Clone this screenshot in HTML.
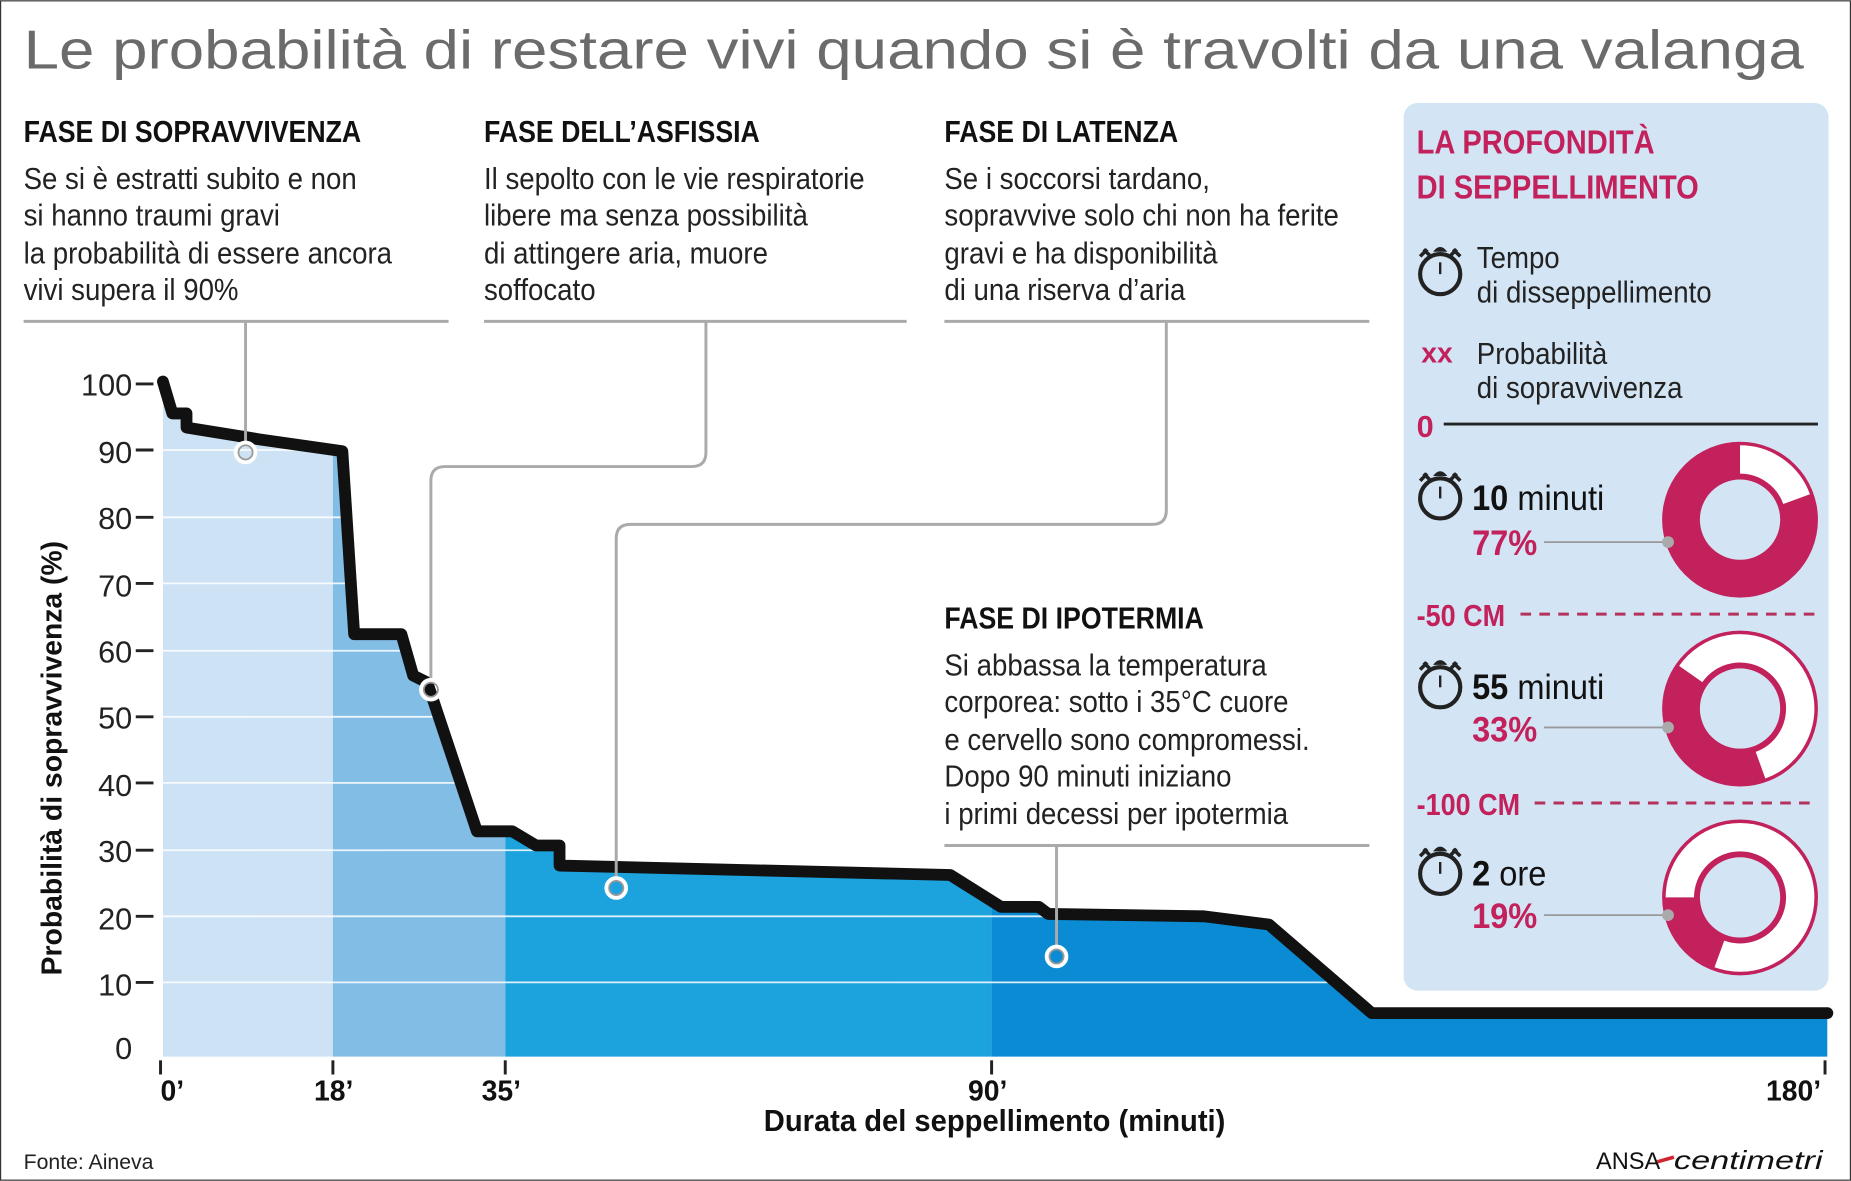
<!DOCTYPE html>
<html><head><meta charset="utf-8"><style>
html,body{margin:0;padding:0;background:#fff}
svg{display:block}
text{font-family:"Liberation Sans Narrow","Liberation Sans",sans-serif}
.t{font-size:26px;fill:#222}
.h{font-size:26px;font-weight:bold;fill:#111}
.m{fill:#c2215c;font-weight:bold}
</style></head><body>
<svg width="1851" height="1181" viewBox="0 0 1568 1000" xmlns="http://www.w3.org/2000/svg">
<rect x="0.5" y="0.5" width="1567" height="999" fill="#fff" stroke="#333" stroke-width="1"/>
<text x="20" y="58" font-size="46" fill="#6b6b6b" textLength="1508" lengthAdjust="spacingAndGlyphs">Le probabilità di restare vivi quando si è travolti da una valanga</text>

<defs><clipPath id="c"><path d="M138,323 L146,350 L158,350 L158,362 L220,372 L290,382 L300,537 L340,537 L350,572 L362,578 L404,704 L434,704 L454,716 L474,716 L474,733 L805,741 L848,768 L880,768 L888,774 L1020,776 L1075,783 L1162,858 L1548,858 L1548,895 L138,895 Z"/></clipPath></defs>
<g clip-path="url(#c)">
<rect x="138" y="300" width="144" height="600" fill="#cde2f4"/>
<rect x="282" y="300" width="146" height="600" fill="#82bde6"/>
<rect x="428" y="300" width="412" height="600" fill="#1ca2dd"/>
<rect x="840" y="300" width="710" height="600" fill="#0b8bd3"/>
<g stroke="#fff" stroke-width="1.5" opacity="0.85">
<line x1="138" x2="1548" y1="381" y2="381"/><line x1="138" x2="1548" y1="438" y2="438"/><line x1="138" x2="1548" y1="494" y2="494"/><line x1="138" x2="1548" y1="551" y2="551"/><line x1="138" x2="1548" y1="607" y2="607"/><line x1="138" x2="1548" y1="663" y2="663"/><line x1="138" x2="1548" y1="720" y2="720"/><line x1="138" x2="1548" y1="776" y2="776"/><line x1="138" x2="1548" y1="832" y2="832"/>
</g></g>
<path d="M138,323 L146,350 L158,350 L158,362 L220,372 L290,382 L300,537 L340,537 L350,572 L362,578 L404,704 L434,704 L454,716 L474,716 L474,733 L805,741 L848,768 L880,768 L888,774 L1020,776 L1075,783 L1162,858 L1548,858" fill="none" stroke="#111" stroke-width="10" stroke-linejoin="round" stroke-linecap="round"/>

<g font-size="26" fill="#222" text-anchor="end">
<text x="112" y="335">100</text><text x="112" y="392">90</text><text x="112" y="448">80</text><text x="112" y="505">70</text><text x="112" y="561">60</text><text x="112" y="617">50</text><text x="112" y="674">40</text><text x="112" y="730">30</text><text x="112" y="787">20</text><text x="112" y="843">10</text><text x="112" y="897">0</text>
</g>
<g stroke="#222" stroke-width="2.5">
<line x1="115" x2="130" y1="325" y2="325"/><line x1="115" x2="130" y1="381" y2="381"/><line x1="115" x2="130" y1="438" y2="438"/><line x1="115" x2="130" y1="494" y2="494"/><line x1="115" x2="130" y1="551" y2="551"/><line x1="115" x2="130" y1="607" y2="607"/><line x1="115" x2="130" y1="663" y2="663"/><line x1="115" x2="130" y1="720" y2="720"/><line x1="115" x2="130" y1="776" y2="776"/><line x1="115" x2="130" y1="832" y2="832"/>
</g>
<text transform="translate(52,642) rotate(-90)" text-anchor="middle" font-size="24" font-weight="bold" fill="#111">Probabilità di sopravvivenza (%)</text>
<g stroke="#222" stroke-width="2.5"><line x1="136" x2="136" y1="898" y2="910"/><line x1="282" x2="282" y1="898" y2="910"/><line x1="428" x2="428" y1="898" y2="910"/><line x1="840" x2="840" y1="898" y2="910"/><line x1="1546" x2="1546" y1="898" y2="910"/></g>
<g font-size="24" font-weight="bold" fill="#111">
<text x="136" y="932">0’</text><text x="266" y="932">18’</text><text x="408" y="932">35’</text><text x="820" y="932">90’</text><text x="1496" y="932">180’</text>
</g>
<text x="647" y="958" font-size="26" font-weight="bold" fill="#111" textLength="391" lengthAdjust="spacingAndGlyphs">Durata del seppellimento (minuti)</text>
<text x="20" y="990" font-size="18" fill="#222">Fonte: Aineva</text>
<text x="1352" y="990" font-size="20" fill="#111">ANSA</text>
<text x="1418" y="990" font-size="22" font-style="italic" fill="#111" textLength="126" lengthAdjust="spacingAndGlyphs">centimetri</text>
<line x1="1404" y1="984" x2="1418" y2="980" stroke="#d0252c" stroke-width="3"/>

<!-- callouts -->
<g transform="translate(20,0) scale(0.87,1)"><text x="0" y="120" class="h">FASE DI SOPRAVVIVENZA</text></g>
<g transform="translate(20,0) scale(0.9,1)"><text class="t"><tspan x="0" y="160">Se si è estratti subito e non</tspan><tspan x="0" y="191">si hanno traumi gravi</tspan><tspan x="0" y="223">la probabilità di essere ancora</tspan><tspan x="0" y="254">vivi supera il 90%</tspan></text></g>
<g transform="translate(410,0) scale(0.87,1)"><text x="0" y="120" class="h">FASE DELL’ASFISSIA</text></g>
<g transform="translate(410,0) scale(0.9,1)"><text class="t"><tspan x="0" y="160">Il sepolto con le vie respiratorie</tspan><tspan x="0" y="191">libere ma senza possibilità</tspan><tspan x="0" y="223">di attingere aria, muore</tspan><tspan x="0" y="254">soffocato</tspan></text></g>
<g transform="translate(800,0) scale(0.87,1)"><text x="0" y="120" class="h">FASE DI LATENZA</text></g>
<g transform="translate(800,0) scale(0.9,1)"><text class="t"><tspan x="0" y="160">Se i soccorsi tardano,</tspan><tspan x="0" y="191">sopravvive solo chi non ha ferite</tspan><tspan x="0" y="223">gravi e ha disponibilità</tspan><tspan x="0" y="254">di una riserva d’aria</tspan></text></g>
<g transform="translate(800,0) scale(0.87,1)"><text x="0" y="532" class="h">FASE DI IPOTERMIA</text></g>
<g transform="translate(800,0) scale(0.9,1)"><text class="t"><tspan x="0" y="572">Si abbassa la temperatura</tspan><tspan x="0" y="603">corporea: sotto i 35°C cuore</tspan><tspan x="0" y="635">e cervello sono compromessi.</tspan><tspan x="0" y="666">Dopo 90 minuti iniziano</tspan><tspan x="0" y="698">i primi decessi per ipotermia</tspan></text></g>
<g stroke="#aaa" stroke-width="2.5" fill="none">
<line x1="20" x2="380" y1="272" y2="272"/><line x1="410" x2="768" y1="272" y2="272"/><line x1="800" x2="1160" y1="272" y2="272"/><line x1="800" x2="1160" y1="716" y2="716"/>
<path d="M208,272 V376"/>
<path d="M598,272 V383 Q598,395 586,395 H377 Q365,395 365,407 V577"/>
<path d="M988,272 V432 Q988,444 976,444 H534 Q522,444 522,456 V745"/>
<path d="M895,716 V803"/>
</g>
<g fill="none" stroke="#fff" stroke-width="4"><circle cx="208" cy="383" r="8"/><circle cx="365" cy="584" r="8"/><circle cx="522" cy="752" r="8"/><circle cx="895" cy="810" r="8"/></g>
<g fill="none" stroke="#999" stroke-width="1.5"><circle cx="208" cy="383" r="6"/><circle cx="365" cy="584" r="6"/><circle cx="522" cy="752" r="6"/><circle cx="895" cy="810" r="6"/></g>

<!-- panel -->
<rect x="1189" y="87" width="360" height="752" rx="12" fill="#d3e5f5"/>
<g transform="translate(1200,0) scale(0.88,1)"><text x="0" y="130" font-size="28" class="m">LA PROFONDITÀ</text><text x="0" y="168" font-size="28" class="m">DI SEPPELLIMENTO</text></g>
<defs><g id="sw"><circle cx="0" cy="0" r="17" fill="none" stroke="#222" stroke-width="3.5"/><path d="M-6,-19 Q0,-27 6,-19 Z" fill="#222"/><path d="M-17,-15 L-11,-21 M-14,-21 L-9,-16 M17,-15 L11,-21 M14,-21 L9,-16" stroke="#222" stroke-width="3"/><line x1="0" y1="-10" x2="0" y2="0" stroke="#222" stroke-width="2"/></g></defs>
<use href="#sw" x="1220" y="232"/>
<g transform="translate(1251,0) scale(0.9,1)"><text class="t"><tspan x="0" y="227">Tempo</tspan><tspan x="0" y="256">di disseppellimento</tspan></text>
<text class="t"><tspan x="0" y="308">Probabilità</tspan><tspan x="0" y="337">di sopravvivenza</tspan></text></g>
<text x="1204" y="307" font-size="24" class="m">xx</text>
<text x="1200" y="370" font-size="26" class="m">0</text>
<line x1="1223" x2="1540" y1="359" y2="359" stroke="#222" stroke-width="2.5"/>
<g transform="translate(1200,0) scale(0.88,1)"><text x="0" y="530" font-size="26" class="m">-50 CM</text><text x="0" y="690" font-size="26" class="m">-100 CM</text></g>
<line x1="1288" x2="1540" y1="520" y2="520" stroke="#b5325d" stroke-width="2.5" stroke-dasharray="9,7"/>
<line x1="1300" x2="1540" y1="680" y2="680" stroke="#b5325d" stroke-width="2.5" stroke-dasharray="9,7"/>

<use href="#sw" x="1220" y="422"/><g transform="translate(1247,0) scale(0.92,1)"><text x="0" y="432" font-size="30" fill="#111"><tspan font-weight="bold">10</tspan> minuti</text><text x="0" y="470" font-size="30" class="m">77%</text></g>
<use href="#sw" x="1220" y="582"/><g transform="translate(1247,0) scale(0.92,1)"><text x="0" y="592" font-size="30" fill="#111"><tspan font-weight="bold">55</tspan> minuti</text><text x="0" y="628" font-size="30" class="m">33%</text></g>
<use href="#sw" x="1220" y="740"/><g transform="translate(1247,0) scale(0.92,1)"><text x="0" y="750" font-size="30" fill="#111"><tspan font-weight="bold">2</tspan> ore</text><text x="0" y="786" font-size="30" class="m">19%</text></g>

<g stroke="#999" stroke-width="1.5"><line x1="1308" x2="1412" y1="459" y2="459"/><line x1="1308" x2="1412" y1="616" y2="616"/><line x1="1308" x2="1412" y1="775" y2="775"/></g>

<g>
<circle cx="1474" cy="440" r="66" fill="#c2215c"/><circle cx="1474" cy="440" r="51" fill="none" stroke="#fff" stroke-width="24" stroke-dasharray="62.3 400" transform="rotate(-90 1474 440)"/><circle cx="1474" cy="440" r="36" fill="#d3e5f5" stroke="#c2215c" stroke-width="4"/>
<circle cx="1474" cy="600" r="66" fill="#c2215c"/><circle cx="1474" cy="600" r="51" fill="none" stroke="#fff" stroke-width="24" stroke-dasharray="191.4 400" transform="rotate(215 1474 600)"/><circle cx="1474" cy="600" r="36" fill="#d3e5f5" stroke="#c2215c" stroke-width="4"/>
<circle cx="1474" cy="760" r="66" fill="#c2215c"/><circle cx="1474" cy="760" r="51" fill="none" stroke="#fff" stroke-width="24" stroke-dasharray="258.1 400" transform="rotate(180 1474 760)"/><circle cx="1474" cy="760" r="36" fill="#d3e5f5" stroke="#c2215c" stroke-width="4"/>
</g>
<g fill="#aaa"><circle cx="1413" cy="459" r="5"/><circle cx="1413" cy="616" r="5"/><circle cx="1413" cy="775" r="5"/></g>
</svg>
</body></html>
